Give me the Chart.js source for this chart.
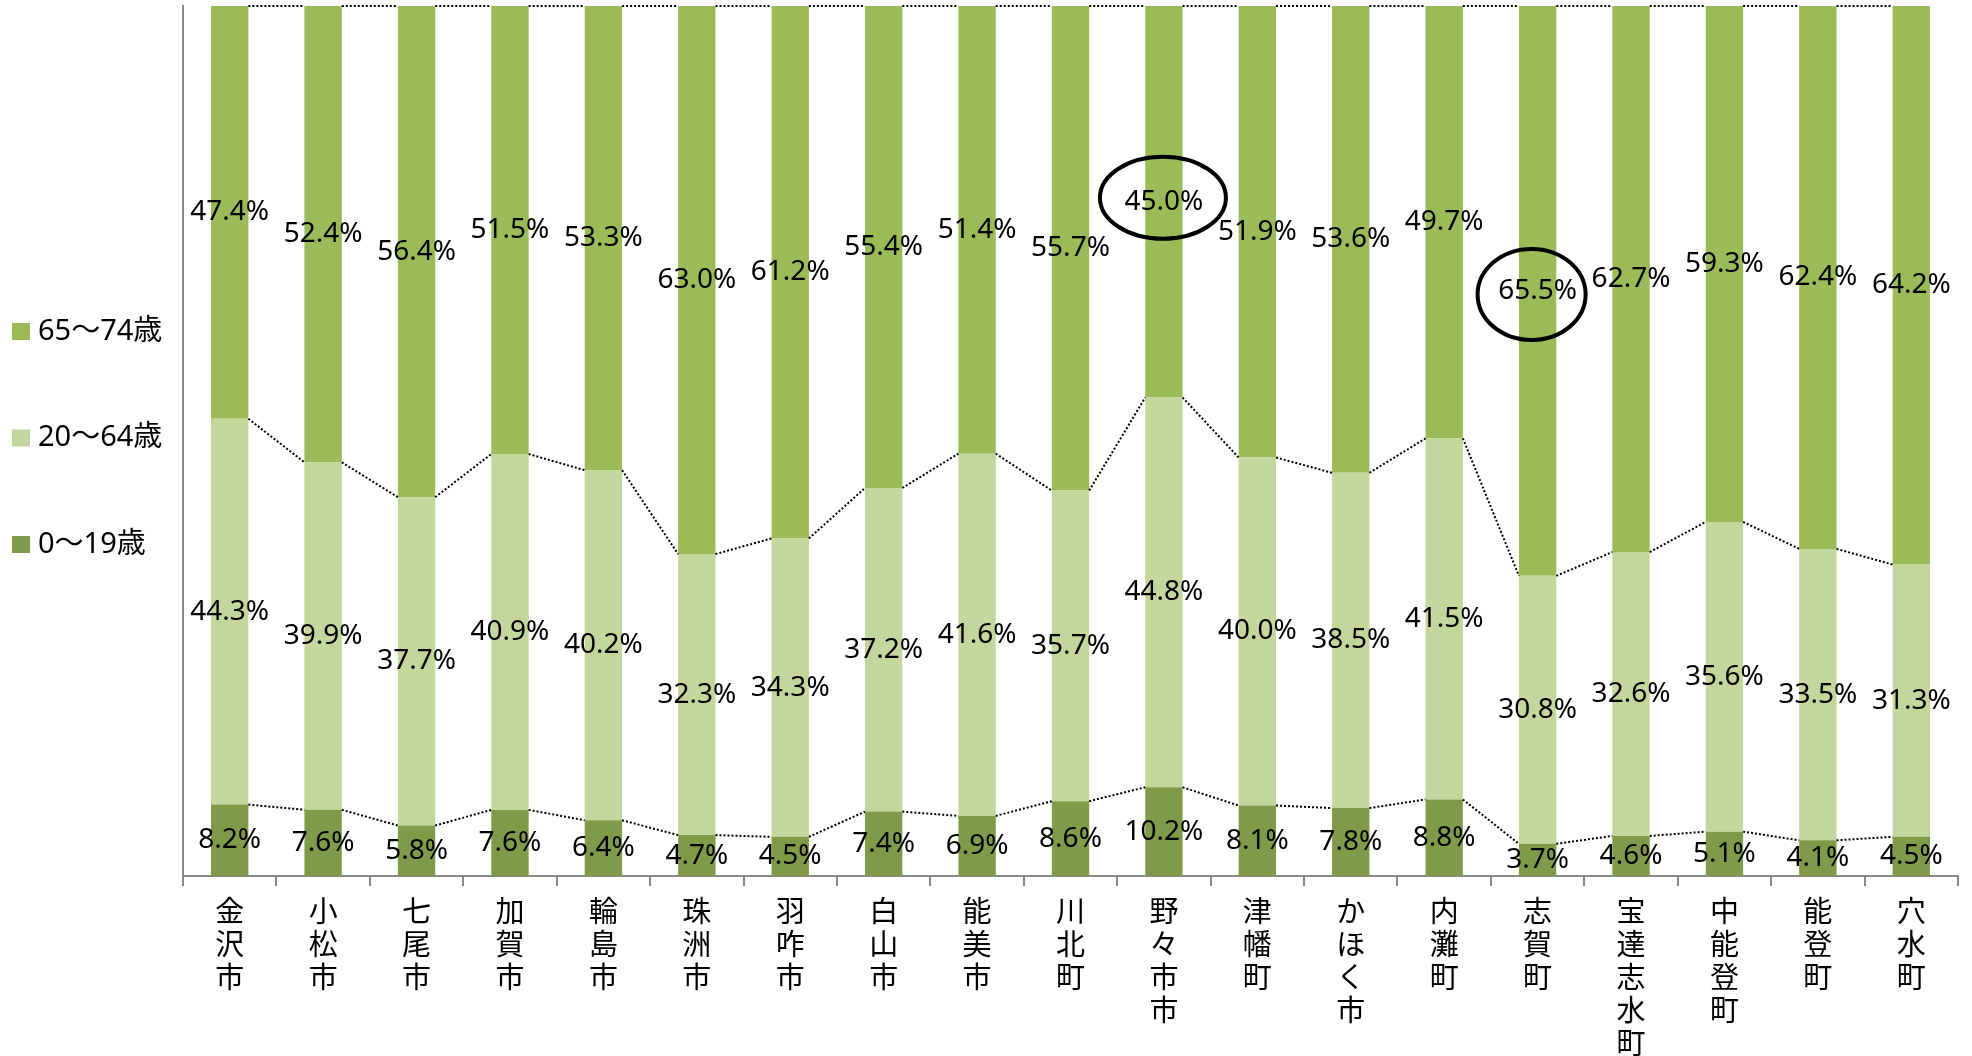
<!DOCTYPE html>
<html>
<head>
<meta charset="utf-8">
<script src="https://cdn.jsdelivr.net/npm/chart.js@4.4.0/dist/chart.umd.min.js"></script>
<style>
  html, body { margin: 0; padding: 0; background: #ffffff; overflow: hidden; }
  #wrap { width: 1972px; height: 1056px; position: relative; }
</style>
</head>
<body>
<div id="wrap"><canvas id="c"></canvas></div>
<script>
const categories = ['金沢市','小松市','七尾市','加賀市','輪島市','珠洲市','羽咋市','白山市','能美市','川北町','野々市市','津幡町','かほく市','内灘町','志賀町','宝達志水町','中能登町','能登町','穴水町'];
const seriesNames = ['0～19歳', '20～64歳', '65～74歳'];
const age0to19  = [8.2, 7.6, 5.8, 7.6, 6.4, 4.7, 4.5, 7.4, 6.9, 8.6, 10.2, 8.1, 7.8, 8.8, 3.7, 4.6, 5.1, 4.1, 4.5];
const age20to64 = [44.3, 39.9, 37.7, 40.9, 40.2, 32.3, 34.3, 37.2, 41.6, 35.7, 44.8, 40.0, 38.5, 41.5, 30.8, 32.6, 35.6, 33.5, 31.3];
const age65to74 = [47.4, 52.4, 56.4, 51.5, 53.3, 63.0, 61.2, 55.4, 51.4, 55.7, 45.0, 51.9, 53.6, 49.7, 65.5, 62.7, 59.3, 62.4, 64.2];
const circledIndices = [10, 14];

const rawSeries = [age0to19, age20to64, age65to74];
const totals = categories.map((c, i) => rawSeries.reduce((s, arr) => s + arr[i], 0));

const colors = ['#7F9A48', '#C3D69B', '#9BBB59'];
const axisGray = '#898989';

const seriesLines = {
  id: 'seriesLines',
  afterDatasetsDraw(chart) {
    const ctx = chart.ctx;
    ctx.save();
    ctx.strokeStyle = '#000';
    ctx.lineWidth = 2;
    ctx.setLineDash([2, 2]);
    chart.data.datasets.forEach((ds, d) => {
      const els = chart.getDatasetMeta(d).data;
      for (let i = 0; i < els.length - 1; i++) {
        const a = els[i], b = els[i + 1];
        ctx.beginPath();
        ctx.moveTo(a.x + a.width / 2, a.y);
        ctx.lineTo(b.x - b.width / 2, b.y);
        ctx.stroke();
      }
    });
    ctx.restore();
  }
};

const valueLabels = {
  id: 'valueLabels',
  afterDatasetsDraw(chart) {
    const ctx = chart.ctx;
    ctx.save();
    ctx.fillStyle = '#000';
    ctx.font = '28px "Noto Sans", "Open Sans", sans-serif';
    ctx.textAlign = 'center';
    ctx.textBaseline = 'middle';
    chart.data.datasets.forEach((ds, d) => {
      const els = chart.getDatasetMeta(d).data;
      els.forEach((el, i) => {
        const v = rawSeries[d][i];
        ctx.fillText(v.toFixed(1) + '%', el.x, (el.y + el.base) / 2);
      });
    });
    ctx.restore();
  }
};

const highlightCircles = {
  id: 'highlightCircles',
  afterDraw(chart) {
    const ctx = chart.ctx;
    const els = chart.getDatasetMeta(2).data;
    const shapes = [
      { dx: -1, dy: -4, rx: 63, ry: 41 },
      { dx: -6, dy: 3.5, rx: 54, ry: 45.5 }
    ];
    ctx.save();
    ctx.strokeStyle = '#000';
    ctx.lineWidth = 4;
    circledIndices.forEach((idx, k) => {
      const el = els[idx];
      const s = shapes[k];
      const cx = el.x + s.dx;
      const cy = (el.y + el.base) / 2 + s.dy;
      ctx.beginPath();
      ctx.ellipse(cx, cy, s.rx, s.ry, 0, 0, Math.PI * 2);
      ctx.stroke();
    });
    ctx.restore();
  }
};

const sideLegend = {
  id: 'sideLegend',
  afterDraw(chart) {
    const ctx = chart.ctx;
    const area = chart.chartArea;
    const mid = (area.top + area.bottom) / 2 - 3;
    const gap = 106.5;
    ctx.save();
    ctx.font = '29px "Noto Sans", "Noto Sans CJK JP", sans-serif';
    ctx.textBaseline = 'middle';
    ctx.textAlign = 'left';
    const order = [2, 1, 0];
    order.forEach((d, k) => {
      const y = mid + (k - 1) * gap;
      ctx.fillStyle = colors[d];
      ctx.fillRect(12, y - 8.5, 18, 17);
      ctx.fillStyle = '#000';
      ctx.fillText(seriesNames[d], 38, y);
    });
    ctx.restore();
  }
};

const datasets = rawSeries.map((arr, d) => ({
  label: seriesNames[d],
  data: arr.map((v, i) => v / totals[i] * 100),
  backgroundColor: colors[d],
  borderWidth: 0,
  barPercentage: 0.4,
  categoryPercentage: 1.0
}));

new Chart(document.getElementById('c'), {
  type: 'bar',
  data: {
    labels: categories.map(s => Array.from(s)),
    datasets
  },
  options: {
    responsive: true,
    maintainAspectRatio: false,
    devicePixelRatio: 1,
    animation: false,
    layout: { padding: { left: 183, right: 14, top: 6, bottom: 0 } },
    plugins: {
      legend: { display: false },
      tooltip: { enabled: false },
      title: { display: false }
    },
    scales: {
      x: {
        stacked: true,
        offset: true,
        grid: {
          display: true,
          offset: true,
          drawOnChartArea: false,
          drawTicks: true,
          tickLength: 10,
          color: axisGray,
          lineWidth: 2
        },
        border: { display: true, color: axisGray, width: 2 },
        ticks: {
          autoSkip: false,
          maxRotation: 0,
          minRotation: 0,
          padding: 8,
          color: '#000',
          font: { family: '"Noto Sans CJK JP", sans-serif', size: 29, lineHeight: '33px' }
        },
        afterFit(scale) { scale.height = 180; }
      },
      y: {
        stacked: true,
        min: 0,
        max: 100,
        grid: { display: false },
        border: { display: true, color: axisGray, width: 2 },
        ticks: { display: false },
        afterFit(scale) { scale.width = 0; }
      }
    }
  },
  plugins: [seriesLines, valueLabels, highlightCircles, sideLegend]
});
</script>
</body>
</html>
